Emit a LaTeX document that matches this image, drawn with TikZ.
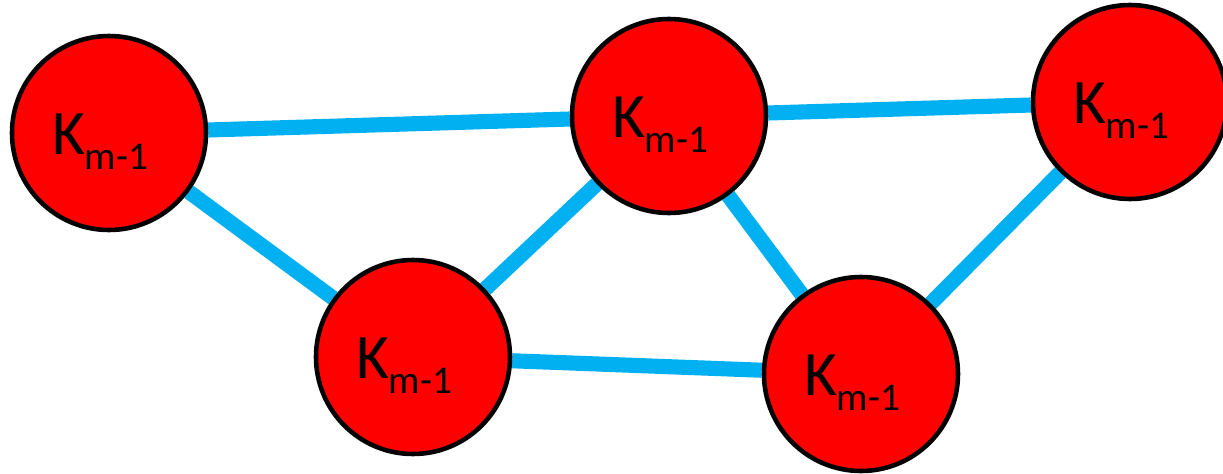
\documentclass[tikz,border=0pt]{standalone}
\usepackage{fontspec}
\setmainfont{Carlito}
\usepackage{tikz}
\usetikzlibrary{backgrounds}
\definecolor{kred}{HTML}{FF0000}
\definecolor{kblue}{HTML}{00B0F0}
\tikzset{
  % red vertex with black outline
  knode/.style = {circle, draw=black, fill=kred, line width=1.3pt,
                  minimum size=1.94cm, inner sep=0pt, font=\fontsize{18}{21}\selectfont},
  kedge/.style = {kblue, line width=4.3pt},
}
% label K_{m-1}, set a little low and to the left as in the original
\newcommand{\kml}{\raisebox{-2.5pt}[\height][\depth]{K\raisebox{-4.5pt}{\fontsize{11.2}{13}\selectfont m-1}}\kern5pt}

\begin{document}
\begin{tikzpicture}[x=1cm,y=1cm]
\useasboundingbox (0,0) rectangle (12.23,4.73);
% vertices
\node[knode] (ka) at (1.09,3.40) {\kml};
\node[knode] (kb) at (6.69,3.57) {\kml};
\node[knode] (kc) at (11.30,3.71) {\kml};
\node[knode] (kd) at (4.13,1.16) {\kml};
\node[knode] (ke) at (8.61,0.99) {\kml};
% edges
\begin{scope}[on background layer]
\draw[kedge] (ka) -- (kb);
\draw[kedge] (kb) -- (kc);
\draw[kedge] (ka) -- (kd);
\draw[kedge] (kd) -- (kb);
\draw[kedge] (kb) -- (ke);
\draw[kedge] (kc) -- (ke);
\draw[kedge] (kd) -- (ke);
\end{scope}
\end{tikzpicture}
\end{document}
